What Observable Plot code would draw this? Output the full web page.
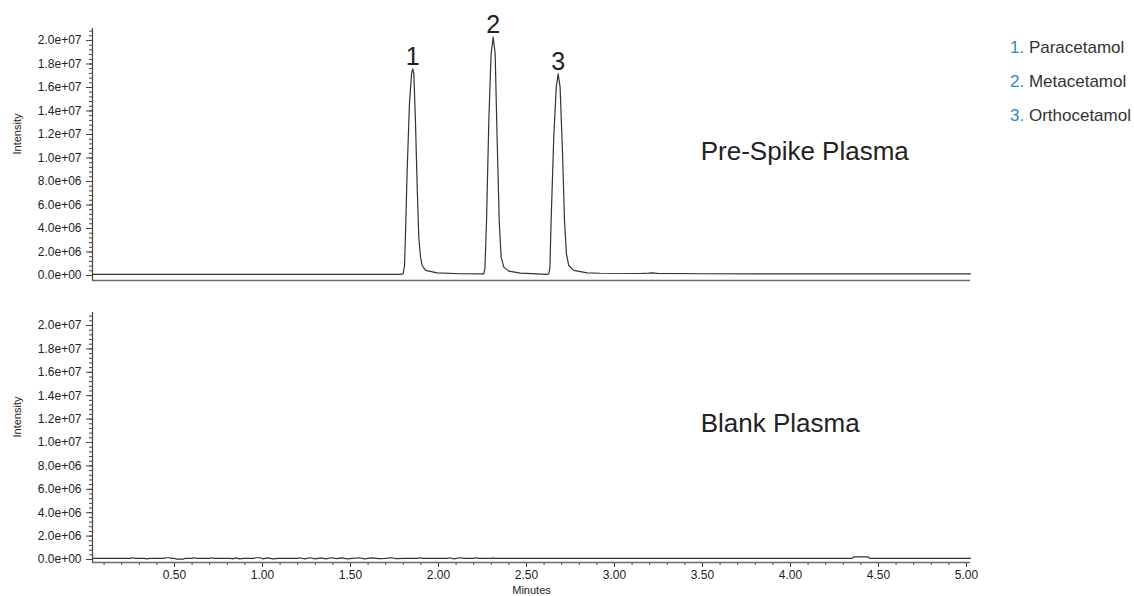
<!DOCTYPE html>
<html>
<head>
<meta charset="utf-8">
<script src="https://cdn.jsdelivr.net/npm/d3@7"></script>
<script src="https://cdn.jsdelivr.net/npm/@observablehq/plot@0.6"></script>
<style>
  html, body { margin: 0; padding: 0; background: #fff; }
  #wrap { position: relative; width: 1134px; height: 596px; overflow: hidden; font-family: "Liberation Sans", Arial, sans-serif; }
  #topPanel, #bottomPanel { position: absolute; left: 0; }
  #topPanel { top: 0; }
  #bottomPanel { top: 290px; }
  #legend { position: absolute; left: 1010px; top: 31px; font-size: 17px; color: #333; line-height: 34px; }
  #legend .n { color: #2b8cc4; }
</style>
</head>
<body>
<div id="wrap">
  <div id="topPanel"></div>
  <div id="bottomPanel"></div>
  <div id="legend"></div>
</div>
<script>
// ---- data ----
const spikeTime = [0.034, 0.50, 1.00, 1.50, 1.78,
  1.799, 1.807, 1.812, 1.822, 1.835, 1.847, 1.854, 1.860, 1.869, 1.879, 1.888, 1.898, 1.907, 1.926, 1.993, 2.125, 2.250,
  2.257, 2.264, 2.273, 2.286, 2.299, 2.311, 2.322, 2.333, 2.345, 2.356, 2.371, 2.399, 2.466, 2.618,
  2.627, 2.633, 2.640, 2.655, 2.669, 2.680, 2.691, 2.705, 2.716, 2.727, 2.740, 2.769, 2.845, 2.920,
  3.148, 3.193, 3.216, 3.244, 3.489, 4.057, 5.023];
const spikeIntensity = [0.9e5, 0.9e5, 1.0e5, 1.0e5, 1.0e5,
  1.45e5, 8.5e5, 3.26e6, 8.94e6, 1.461e7, 1.717e7, 1.759e7, 1.717e7, 1.319e7, 7.51e6, 3.26e6, 1.56e6, 8.5e5, 4.3e5, 2.3e5, 1.5e5, 1.3e5,
  1.45e5, 6.0e5, 4.68e6, 1.319e7, 1.887e7, 2.028e7, 1.887e7, 1.177e7, 4.68e6, 1.56e6, 7.1e5, 3.7e5, 2.0e5, 1.0e5,
  1.45e5, 6.8e5, 4.68e6, 1.177e7, 1.603e7, 1.717e7, 1.603e7, 1.036e7, 4.68e6, 1.85e6, 8.5e5, 4.3e5, 2.3e5, 1.9e5,
  1.7e5, 2.0e5, 2.3e5, 1.8e5, 1.5e5, 1.4e5, 1.3e5];

const blankTime = [0.034, 0.25, 0.26, 0.28, 0.33, 0.34, 0.36, 0.44, 0.45, 0.47, 0.48, 0.50, 0.51, 0.55, 0.56, 0.60, 0.61, 0.63,
  0.70, 0.71, 0.72, 0.82, 0.83, 0.85, 0.87, 0.89, 0.95, 0.96, 0.99, 1.00, 1.03, 1.06, 1.09, 1.20, 1.21, 1.24, 1.27, 1.30,
  1.33, 1.36, 1.39, 1.42, 1.45, 1.48, 1.51, 1.55, 1.58, 1.62, 1.66, 1.70, 1.73, 1.76, 1.80, 1.88, 1.89, 1.91, 2.05, 2.06,
  2.09, 2.12, 2.15, 2.20, 2.21, 2.23, 2.30, 2.31, 2.32, 4.35, 4.36, 4.44, 4.45, 5.023];
const blankIntensity = [1.0e5, 1.0e5, 1.5e5, 1.0e5, 1.0e5, 0.5e5, 1.0e5, 1.0e5, 1.5e5, 1.5e5, 1.0e5, 1.0e5, 0.4e5, 0.4e5, 1.0e5, 1.0e5, 1.5e5, 1.0e5,
  1.0e5, 1.5e5, 1.0e5, 1.0e5, 0.5e5, 1.4e5, 0.6e5, 1.0e5, 1.0e5, 1.5e5, 1.5e5, 0.6e5, 1.4e5, 0.6e5, 1.0e5, 1.0e5, 1.5e5, 0.6e5, 1.5e5, 0.6e5,
  1.4e5, 0.6e5, 1.5e5, 0.7e5, 1.4e5, 0.6e5, 1.0e5, 1.5e5, 0.6e5, 1.4e5, 0.7e5, 1.0e5, 1.5e5, 0.7e5, 1.0e5, 1.0e5, 1.5e5, 1.0e5, 1.0e5, 1.5e5,
  0.6e5, 1.5e5, 1.0e5, 1.0e5, 1.5e5, 1.0e5, 1.0e5, 1.4e5, 1.0e5, 1.0e5, 2.2e5, 2.2e5, 1.0e5, 1.0e5];

const peakLabels = ["1", "2", "3"];
const peakTime = [1.854, 2.311, 2.680];
const peakApex = [1.759e7, 2.028e7, 1.717e7];
const compoundNames = ["Paracetamol", "Metacetamol", "Orthocetamol"];
const panelTitles = ["Pre-Spike Plasma", "Blank Plasma"];
const titlePos = [[3.49, 1.05e7], [3.49, 1.16e7]];
const yTickValues = [0, 2e6, 4e6, 6e6, 8e6, 1e7, 1.2e7, 1.4e7, 1.6e7, 1.8e7, 2e7];
const xTickValues = [0.5, 1.0, 1.5, 2.0, 2.5, 3.0, 3.5, 4.0, 4.5, 5.0];
const xDomain = [0.034, 5.023];
const yDomainTop = [-4.26e5, 2.102e7];
const yDomainBottom = [-2.56e5, 2.111e7];

// ---- helpers ----
const spike = spikeTime.map((t, i) => ({t, v: spikeIntensity[i]}));
const blank = blankTime.map((t, i) => ({t, v: blankIntensity[i]}));
const peaks = peakLabels.map((l, i) => ({l, t: peakTime[i], v: peakApex[i]}));
const yMinor = d3.range(0, 2.1e7, 4e5);
const xMinor = d3.range(0.1, 5.01, 0.1).map(d => +d.toFixed(2));
const fmtExp = d => {
  const [m, e] = d.toExponential(1).split("e");
  return m + "e" + e[0] + e.slice(1).padStart(2, "0");
};
const plotStyle = {fontFamily: "'Liberation Sans', Arial, sans-serif", fontSize: "12px", color: "#222", background: "white"};
const axisColor = "#6a6a6a";

function yAxes() {
  return [
    Plot.axisY({ticks: yMinor, tickFormat: () => "", tickSize: 3, stroke: "#444", label: null}),
    Plot.axisY({ticks: yTickValues, tickFormat: fmtExp, tickSize: 6, tickPadding: 5, stroke: "#444", label: null})
  ];
}

const topChart = Plot.plot({
  width: 1134, height: 290,
  marginLeft: 92, marginRight: 164, marginTop: 28, marginBottom: 10,
  x: {domain: xDomain, axis: null},
  y: {domain: yDomainTop},
  style: plotStyle,
  marks: [
    ...yAxes(),
    Plot.ruleY([yDomainTop[0]], {stroke: axisColor, strokeWidth: 1.6}),
    Plot.ruleX([xDomain[0]], {stroke: "#444", strokeWidth: 1.2}),
    Plot.line(spike, {x: "t", y: "v", stroke: "#333", strokeWidth: 1.2}),
    Plot.text(peaks, {x: "t", y: "v", text: "l", dy: -4, lineAnchor: "bottom", fontSize: 25, fill: "#222"}),
    Plot.text([panelTitles[0]], {x: titlePos[0][0], y: titlePos[0][1], textAnchor: "start", fontSize: 26, fill: "#222"}),
    Plot.text(["Intensity"], {frameAnchor: "left", dx: -75, rotate: -90, fontSize: 11, fill: "#222"})
  ]
});

const bottomChart = Plot.plot({
  width: 1134, height: 306,
  marginLeft: 92, marginRight: 164, marginTop: 22, marginBottom: 34,
  x: {domain: xDomain},
  y: {domain: yDomainBottom},
  style: plotStyle,
  marks: [
    ...yAxes(),
    Plot.axisX({ticks: xMinor, tickFormat: () => "", tickSize: 3, stroke: "#444", label: null}),
    Plot.axisX({ticks: xTickValues, tickFormat: d3.format(".2f"), tickSize: 5, tickPadding: 3, stroke: "#444", label: null}),
    Plot.ruleY([yDomainBottom[0]], {stroke: axisColor, strokeWidth: 1.6}),
    Plot.ruleX([xDomain[0]], {stroke: "#444", strokeWidth: 1.2}),
    Plot.line(blank, {x: "t", y: "v", stroke: "#333", strokeWidth: 1.2}),
    Plot.text([panelTitles[1]], {x: titlePos[1][0], y: titlePos[1][1], textAnchor: "start", fontSize: 26, fill: "#222"}),
    Plot.text(["Intensity"], {frameAnchor: "left", dx: -75, rotate: -90, fontSize: 11, fill: "#222"}),
    Plot.text(["Minutes"], {frameAnchor: "bottom", dy: 31, fontSize: 11, fill: "#222"})
  ]
});

document.getElementById("topPanel").appendChild(topChart);
document.getElementById("bottomPanel").appendChild(bottomChart);

const legend = document.getElementById("legend");
compoundNames.forEach((name, i) => {
  const row = document.createElement("div");
  row.innerHTML = `<span class="n">${i + 1}.</span> ${name}`;
  legend.appendChild(row);
});
</script>
</body>
</html>
